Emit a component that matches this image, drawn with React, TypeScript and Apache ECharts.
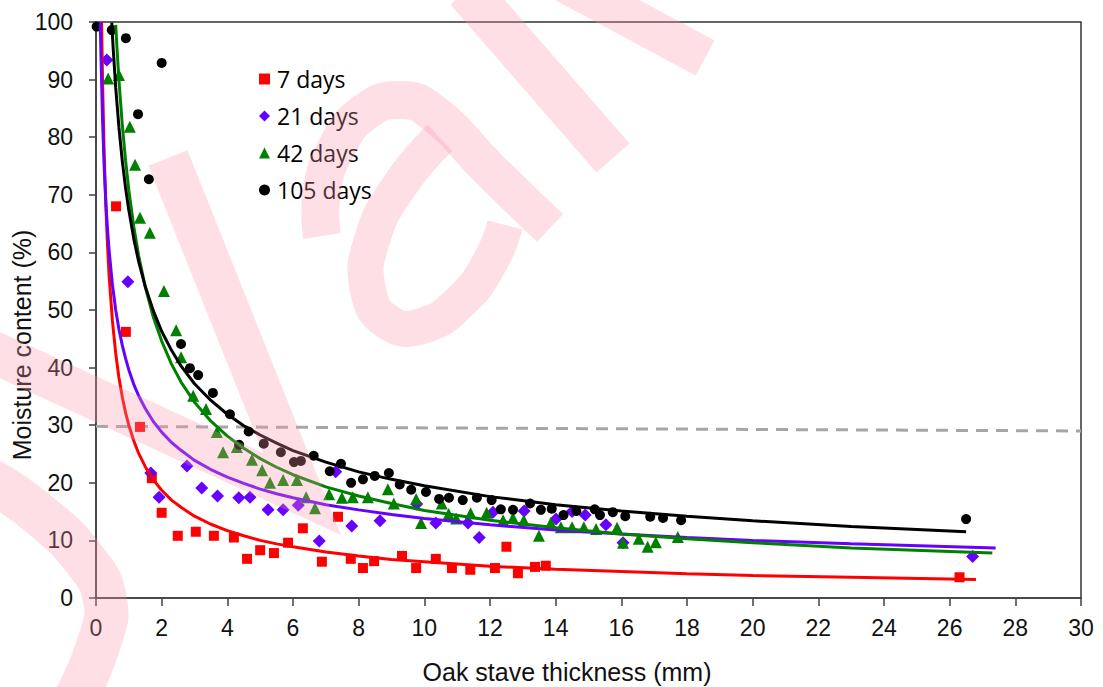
import React, { useEffect, useRef } from "react";
import * as echarts from "echarts";

// ---- Data ----
const seriesNames = ["7 days", "21 days", "42 days", "105 days"];

const days7: number[][] = [
  [0.61, 68.0], [0.91, 46.2], [1.34, 29.7], [1.7, 20.8], [2.0, 14.8], [2.49, 10.8],
  [3.04, 11.5], [3.59, 10.8], [4.2, 10.5], [4.6, 6.8], [5.0, 8.3], [5.42, 7.8],
  [5.85, 9.6], [6.3, 12.1], [6.88, 6.3], [7.37, 14.1], [7.76, 6.8], [8.13, 5.2],
  [8.47, 6.4], [9.32, 7.3], [9.75, 5.2], [10.35, 6.8], [10.84, 5.2], [11.4, 4.9],
  [12.15, 5.2], [12.5, 8.9], [12.85, 4.3], [13.37, 5.4], [13.7, 5.6], [26.3, 3.6],
];

const days21: number[][] = [
  [0.33, 93.4], [0.97, 54.9], [1.67, 21.7], [1.92, 17.5], [2.77, 22.9], [3.22, 19.1],
  [3.7, 17.7], [4.35, 17.4], [4.69, 17.5], [5.24, 15.3], [5.7, 15.3], [6.16, 16.1],
  [6.8, 9.9], [7.3, 21.9], [7.79, 12.5], [8.65, 13.4], [9.77, 16.3], [10.35, 13.0],
  [11.33, 13.0], [11.67, 10.5], [12.09, 14.9], [13.04, 15.1], [14.01, 13.7], [14.5, 15.0],
  [14.9, 14.4], [15.53, 12.7], [16.05, 9.6], [26.7, 7.2],
];

const days42: number[][] = [
  [0.37, 90.2], [0.7, 90.8], [1.03, 81.8], [1.19, 75.2], [1.34, 66.0], [1.64, 63.4],
  [2.07, 53.3], [2.44, 46.5], [2.59, 41.8], [2.96, 35.1], [3.35, 32.8], [3.68, 28.8],
  [3.87, 25.3], [4.29, 26.2], [4.75, 24.0], [5.06, 22.2], [5.3, 20.0], [5.7, 20.5],
  [6.12, 20.5], [6.4, 17.5], [6.67, 15.6], [7.1, 18.0], [7.49, 17.4], [7.82, 17.5],
  [8.28, 17.5], [8.89, 18.9], [9.07, 16.4], [9.75, 17.2], [9.9, 13.0], [10.53, 16.4],
  [10.74, 14.6], [10.97, 13.8], [11.41, 14.7], [11.9, 14.8], [12.4, 13.5], [12.7, 13.9],
  [13.03, 13.5], [13.49, 10.8], [13.85, 13.0], [14.16, 12.3], [14.5, 12.3], [14.86, 12.3],
  [15.23, 12.0], [15.87, 12.2], [16.05, 9.6], [16.53, 10.3], [16.8, 8.9], [17.05, 9.7],
  [17.72, 10.6],
];

const days105: number[][] = [
  [0.02, 99.2], [0.48, 98.6], [0.91, 97.2], [1.28, 84.0], [1.61, 72.7], [2.0, 92.9],
  [2.59, 44.1], [2.86, 39.9], [3.11, 38.7], [3.56, 35.6], [4.08, 31.9], [4.36, 26.6],
  [4.65, 28.9], [5.11, 26.8], [5.63, 25.3], [6.03, 23.6], [6.24, 23.8], [6.63, 24.7],
  [7.12, 22.0], [7.46, 23.3], [7.77, 20.0], [8.13, 20.6], [8.49, 21.2], [8.92, 21.7],
  [9.25, 19.7], [9.6, 18.8], [10.05, 18.4], [10.45, 17.2], [10.75, 17.4], [11.17, 17.0],
  [11.6, 17.4], [12.05, 17.0], [12.33, 15.4], [12.7, 15.3], [13.22, 16.4], [13.55, 15.3],
  [13.88, 15.5], [14.24, 14.4], [14.63, 15.1], [15.19, 15.4], [15.35, 14.4], [15.74, 14.9],
  [16.12, 14.2], [16.88, 14.1], [17.27, 13.9], [17.82, 13.5], [26.5, 13.7],
];

// trend curves
const fit7: number[][] = [
  [0.17, 100], [0.2, 89.6], [0.25, 77.0], [0.3, 68.0], [0.35, 61.3], [0.4, 55.9],
  [0.5, 48.1], [0.6, 42.5], [0.7, 38.2], [0.8, 34.9], [0.9, 32.2], [1, 30.0],
  [1.15, 27.3], [1.3, 25.1], [1.5, 22.8], [1.75, 20.5], [2, 18.7], [2.3, 17.0],
  [2.6, 15.7], [3, 14.2], [3.5, 12.8], [4, 11.7], [4.5, 10.8], [5, 10.0], [5.5, 9.4],
  [6, 8.9], [7, 8.0], [8, 7.3], [9, 6.7], [10, 6.3], [12, 5.5], [14, 5.0], [16, 4.6],
  [18, 4.2], [20, 3.9], [23, 3.6], [26.8, 3.2],
];
const fit21: number[][] = [
  [0.13, 100], [0.15, 94.4], [0.2, 82.8], [0.25, 74.7], [0.3, 68.7], [0.35, 64.0],
  [0.4, 60.3], [0.5, 54.4], [0.6, 50.0], [0.7, 46.6], [0.8, 43.9], [0.9, 41.6],
  [1, 39.6], [1.15, 37.1], [1.3, 35.1], [1.5, 32.9], [1.75, 30.6], [2, 28.8],
  [2.3, 27.0], [2.6, 25.6], [3, 23.9], [3.5, 22.3], [4, 21.0], [4.5, 19.9], [5, 18.9],
  [5.5, 18.1], [6, 17.4], [7, 16.2], [8, 15.3], [9, 14.5], [10, 13.8], [12, 12.7],
  [14, 11.8], [16, 11.1], [18, 10.5], [20, 10.0], [23, 9.4], [27.4, 8.7],
];
const fit42: number[][] = [
  [0.6, 99.5], [0.65, 94.4], [0.7, 89.8], [0.8, 82.2], [0.9, 76.0], [1, 70.8],
  [1.15, 64.5], [1.3, 59.4], [1.5, 54.0], [1.75, 48.7], [2, 44.6], [2.3, 40.6],
  [2.6, 37.4], [3, 34.0], [3.5, 30.7], [4, 28.1], [4.5, 26.0], [5, 24.2], [5.5, 22.7],
  [6, 21.4], [7, 19.3], [8, 17.7], [9, 16.4], [10, 15.2], [12, 13.5], [14, 12.2],
  [16, 11.1], [18, 10.3], [20, 9.6], [23, 8.7], [27.3, 7.8],
];
const fit105: number[][] = [
  [0.48, 99.9], [0.52, 95.7], [0.6, 88.6], [0.7, 81.6], [0.8, 75.9], [0.9, 71.2],
  [1, 67.3], [1.15, 62.4], [1.3, 58.4], [1.5, 54.1], [1.75, 49.8], [2, 46.3],
  [2.3, 43.0], [2.6, 40.2], [3, 37.2], [3.5, 34.3], [4, 31.9], [4.5, 29.9], [5, 28.3],
  [5.5, 26.9], [6, 25.6], [7, 23.6], [8, 21.9], [9, 20.6], [10, 19.5], [12, 17.6],
  [14, 16.2], [16, 15.1], [18, 14.2], [20, 13.4], [23, 12.4], [26.5, 11.5],
];

const fspLine: number[][] = [[0, 29.8], [30, 29.0]];

const xRange = [0, 30, 2];
const yRange = [0, 100, 10];

const colors = ["#ff0000", "#6600ff", "#008000", "#000000"];
const symbols = ["rect", "diamond", "triangle", "circle"];
const symbolSizes = [10, 13, 12, 10];

const WM = "rgba(250,150,170,0.3)";

export default function App() {
  const ref = useRef<HTMLDivElement>(null);

  useEffect(() => {
    if (!ref.current) return;
    const chart = echarts.init(ref.current, undefined, { renderer: "svg" });

    const scatterData = [days7, days21, days42, days105];
    const fits = [fit7, fit21, fit42, fit105];

    const scatters = scatterData.map((d, i) => ({
      name: seriesNames[i],
      type: "scatter",
      data: d,
      symbol: symbols[i],
      symbolSize: symbolSizes[i],
      itemStyle: { color: colors[i], opacity: 1 },
      z: 3,
    }));

    const lines = fits.map((d, i) => ({
      name: "fit " + seriesNames[i],
      type: "line",
      data: d,
      showSymbol: false,
      symbol: "none",
      smooth: false,
      lineStyle: { color: colors[i], width: 3 },
      z: 4,
    }));

    const wm = (points: number[][], width: number, smooth = false) => ({
      type: "polyline",
      silent: true,
      z: 100,
      shape: { points, smooth: smooth ? 0.5 : 0 },
      style: { stroke: WM, lineWidth: width, fill: null, lineJoin: "miter", lineCap: "butt" },
    });

    const option: any = {
      animation: false,
      backgroundColor: "#ffffff",
      grid: {
        left: 96,
        right: 22,
        top: 22,
        bottom: 89,
        show: true,
        borderColor: "#333",
        borderWidth: 1.5,
        backgroundColor: "transparent",
      },
      legend: {
        data: seriesNames,
        orient: "vertical",
        left: 254,
        top: 61,
        itemWidth: 11,
        itemHeight: 11,
        itemGap: 11,
        textStyle: {
          fontFamily: "Open Sans",
          fontSize: 23,
          color: "#000",
          lineHeight: 26,
          padding: [0, 0, 0, 2],
        },
      },
      xAxis: {
        type: "value",
        min: xRange[0],
        max: xRange[1],
        interval: xRange[2],
        axisLine: { show: true, onZero: false, lineStyle: { color: "#404040", width: 1.5 } },
        axisTick: { show: true, length: 8, lineStyle: { color: "#404040", width: 1.5 } },
        axisLabel: { fontSize: 23, color: "#111", margin: 18, fontFamily: "Liberation Sans, Arial" },
        splitLine: { show: false },
      },
      yAxis: {
        type: "value",
        min: yRange[0],
        max: yRange[1],
        interval: yRange[2],
        axisLine: { show: true, onZero: false, lineStyle: { color: "#404040", width: 1.5 } },
        axisTick: { show: true, length: 7, lineStyle: { color: "#404040", width: 1.5 } },
        axisLabel: { fontSize: 23, color: "#111", margin: 23, fontFamily: "Liberation Sans, Arial" },
        splitLine: { show: false },
      },
      graphic: [
        {
          type: "text",
          x: 567,
          y: 672,
          silent: true,
          style: {
            text: "Oak stave thickness (mm)",
            fontSize: 25,
            fontFamily: "Liberation Sans, Arial",
            fill: "#111",
            align: "center",
            verticalAlign: "middle",
          },
        },
        {
          type: "text",
          x: 22,
          y: 345,
          rotation: Math.PI / 2,
          silent: true,
          style: {
            text: "Moisture content (%)",
            fontSize: 25,
            fontFamily: "Liberation Sans, Arial",
            fill: "#111",
            align: "center",
            verticalAlign: "middle",
          },
        },
        wm([[-20, 346], [302, 494], [168, 158]], 42),
        wm([[-10, 480], [40, 515], [85, 560], [105, 600], [100, 640], [75, 700]], 44, true),
        wm([[322, 236], [322, 190], [338, 145], [365, 112], [400, 100], [432, 112], [490, 170], [550, 228]], 38, true),
        wm([[440, 138], [400, 185], [372, 240], [368, 290], [388, 322], [422, 326], [462, 300], [490, 262], [505, 225]], 36, true),
        wm([[467, -10], [613, 158]], 44),
        wm([[560, -20], [705, 58]], 40),
      ],
      series: [
        ...scatters,
        ...lines,
        {
          name: "fsp",
          type: "line",
          data: fspLine,
          showSymbol: false,
          symbol: "none",
          lineStyle: { color: "#a6a6a6", width: 3, type: [12, 8] },
          z: 2,
        },
      ],
    };

    chart.setOption(option);
    return () => chart.dispose();
  }, []);

  return (
    <div
      ref={ref}
      style={{ position: "absolute", left: 0, top: 0, width: 1103, height: 687, background: "#fff" }}
    />
  );
}
